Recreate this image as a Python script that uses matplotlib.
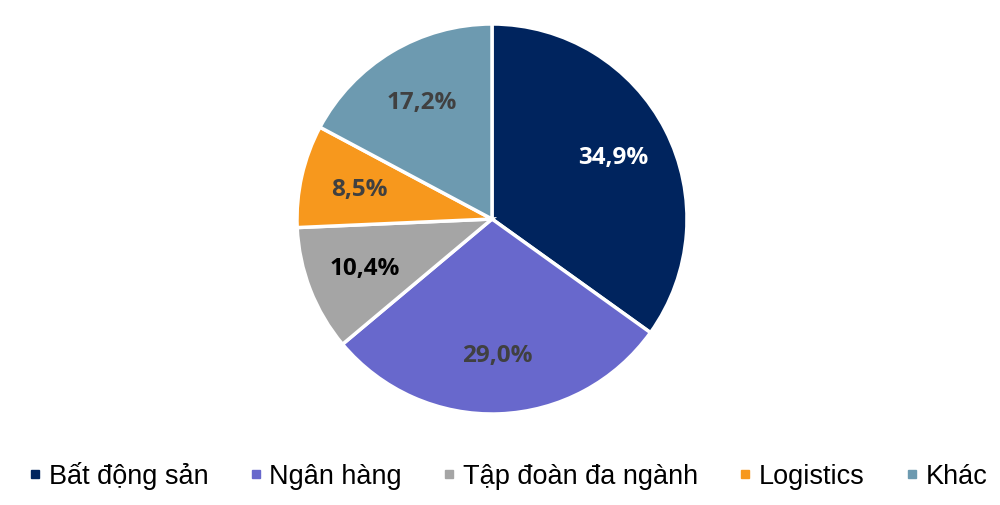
import matplotlib.pyplot as plt
from matplotlib.lines import Line2D

labels = ['Bất động sản', 'Ngân hàng', 'Tập đoàn đa ngành', 'Logistics', 'Khác']
values = [34.9, 29.0, 10.4, 8.5, 17.2]
colors = ['#00245E', '#6868CC', '#A5A5A5', '#F7981D', '#6D9AB0']
text_colors = ['white', '#404040', 'black', '#404040', '#404040']

fig = plt.figure(figsize=(10, 5.06), dpi=100)
cx, cy, r = 492, 220, 195
ax = fig.add_axes([(cx - r) / 1000, (506 - cy - r) / 506, 2 * r / 1000, 2 * r / 506])

wedges, texts, autotexts = ax.pie(values, colors=colors, startangle=90, counterclock=False,
                                  radius=1, pctdistance=0.7,
                                  autopct=lambda p: '',
                                  wedgeprops=dict(edgecolor='white', linewidth=2.5))
for at, v, c in zip(autotexts, values, text_colors):
    at.set_text(f'{v:.1f}'.replace('.', ',') + '%')
    at.set_color(c)
    at.set_fontsize(17.5)
    at.set_fontweight('bold')
    at.set_fontfamily('Open Sans')
ax.set_xlim(-1, 1)
ax.set_ylim(-1, 1)
ax.set_aspect('equal')

handles = [Line2D([], [], marker='s', linestyle='', markersize=6, color=c) for c in colors]
fig.legend(handles, labels, loc='center', bbox_to_anchor=(0.508, 1 - 476 / 506), ncol=5,
           frameon=False, handlelength=0.5, handletextpad=0.25, columnspacing=1.5,
           prop={'family': 'Liberation Sans', 'size': 19.5})

fig.savefig('out.png', dpi=100, facecolor='white')
